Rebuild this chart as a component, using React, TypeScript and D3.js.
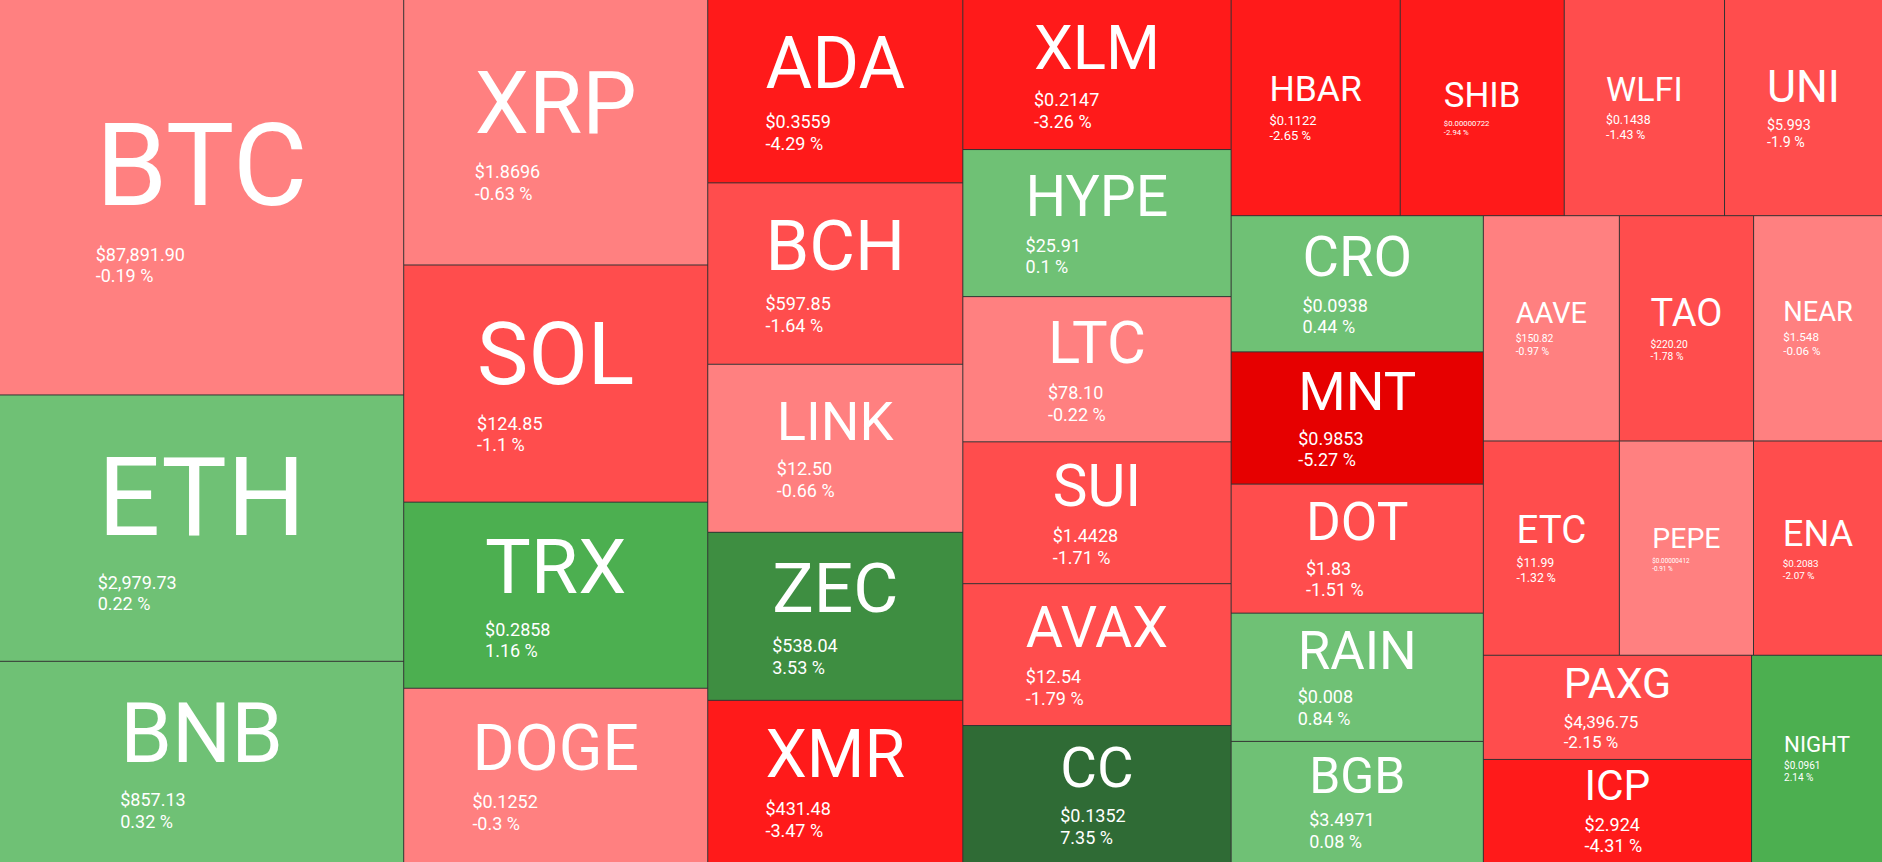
import * as d3 from "d3";
import { useEffect, useRef } from "react";

const WIDTH = 1882;
const HEIGHT = 862;

// coins in display order (largest tile first)
const symbols = [
  "BTC", "ETH", "BNB", "XRP", "SOL", "TRX", "DOGE", "ADA", "BCH", "LINK", "ZEC", "XMR",
  "XLM", "HYPE", "LTC", "SUI", "AVAX", "CC", "HBAR", "SHIB", "WLFI", "UNI", "CRO", "MNT",
  "DOT", "RAIN", "BGB", "AAVE", "TAO", "NEAR", "ETC", "PEPE", "ENA", "PAXG", "ICP", "NIGHT",
];

const prices = [
  "$87,891.90", "$2,979.73", "$857.13", "$1.8696", "$124.85", "$0.2858", "$0.1252", "$0.3559",
  "$597.85", "$12.50", "$538.04", "$431.48", "$0.2147", "$25.91", "$78.10", "$1.4428",
  "$12.54", "$0.1352", "$0.1122", "$0.00000722", "$0.1438", "$5.993", "$0.0938", "$0.9853",
  "$1.83", "$0.008", "$3.4971", "$150.82", "$220.20", "$1.548", "$11.99", "$0.00000412",
  "$0.2083", "$4,396.75", "$2.924", "$0.0961",
];

// 24h change in %
const changes = [
  -0.19, 0.22, 0.32, -0.63, -1.1, 1.16, -0.3, -4.29, -1.64, -0.66, 3.53, -3.47,
  -3.26, 0.1, -0.22, -1.71, -1.79, 7.35, -2.65, -2.94, -1.43, -1.9, 0.44, -5.27,
  -1.51, 0.84, 0.08, -0.97, -1.78, -0.06, -1.32, -0.91, -2.07, -2.15, -4.31, 2.14,
];

// relative tile weight
const weights = [
  1596, 1075, 812, 806, 720, 565, 529, 467, 462, 428, 428, 413,
  402, 394, 389, 380, 380, 367, 365, 354, 346, 341, 343, 333,
  325, 323, 305, 306, 302, 290, 291, 287, 276, 279, 276, 271,
];

const colorSteps = [-5, -2.5, -1, 0, 1, 2.5, 5];
const colorRange = [
  "#e60000", "#ff1a1a", "#ff4d4d", "#ff8080",
  "#6fc175", "#4caf50", "#3e8e41", "#2f6b35",
];

export default function App() {
  const ref = useRef<SVGSVGElement>(null);

  useEffect(() => {
    const svg = d3.select(ref.current);
    svg.selectAll("*").remove();

    const data = symbols.map((s, i) => ({
      symbol: s,
      price: prices[i],
      change: changes[i],
      weight: weights[i],
    }));

    const root = d3
      .hierarchy({ children: data } as any)
      .sum((d: any) => d.weight || 0);

    d3.treemap()
      .size([WIDTH, HEIGHT])
      .paddingInner(1)
      .tile(d3.treemapSquarify)(root);

    const color = d3
      .scaleThreshold<number, string>()
      .domain(colorSteps)
      .range(colorRange);

    svg
      .append("rect")
      .attr("width", WIDTH)
      .attr("height", HEIGHT)
      .attr("fill", "#333");

    const cell = svg
      .selectAll("g.cell")
      .data(root.leaves() as any[])
      .join("g")
      .attr("class", "cell");

    cell
      .append("rect")
      .attr("x", (d) => d.x0)
      .attr("y", (d) => d.y0)
      .attr("width", (d) => d.x1 - d.x0)
      .attr("height", (d) => d.y1 - d.y0)
      .attr("fill", (d) => color(d.data.change));

    const maxPrice = 18;

    cell.each(function (d: any) {
      const g = d3.select(this);
      const w = d.x1 - d.x0;
      const h = d.y1 - d.y0;
      const cx = (d.x0 + d.x1) / 2;
      const cy = (d.y0 + d.y1) / 2;

      const sym = g
        .append("text")
        .attr("font-size", 100)
        .attr("fill", "#fff")
        .text(d.data.symbol);
      const em = (sym.node() as SVGTextElement).getComputedTextLength() / 100;

      // symbol size: fit the width (by letters and by measured length), capped by tile height
      const fs = Math.min(
        (0.855 * w) / d.data.symbol.length,
        (0.55 * w) / em,
        0.415 * h
      );
      sym.attr("font-size", fs);
      const symLen = em * fs;

      const price = g
        .append("text")
        .attr("font-size", maxPrice)
        .attr("fill", "#fff")
        .text(d.data.price);
      const change = g
        .append("text")
        .attr("font-size", maxPrice)
        .attr("fill", "#fff")
        .text(`${d.data.change} %`);

      const pLen = (price.node() as SVGTextElement).getComputedTextLength();
      const cLen = (change.node() as SVGTextElement).getComputedTextLength();

      // price line takes at most ~28% of the tile width
      const fp = Math.min(maxPrice, (maxPrice * 0.28 * w) / pLen);
      price.attr("font-size", fp);
      change.attr("font-size", fp);

      const k = fp / maxPrice;
      const blockW = Math.max(symLen, pLen * k, cLen * k);
      const left = cx - blockW / 2;
      const blockH = 1.27 * fs + 2.47 * fp;
      const base = cy - blockH / 2 + 0.9 * fs;

      sym.attr("x", left).attr("y", base);
      price.attr("x", left).attr("y", base + 0.34 * fs + 0.9 * fp);
      change.attr("x", left).attr("y", base + 0.34 * fs + 2.1 * fp);
    });
  }, []);

  return (
    <div style={{ position: "absolute", left: 0, top: 0 }}>
      <svg
        ref={ref}
        width={WIDTH}
        height={HEIGHT}
        style={{ display: "block", fontFamily: "Roboto, sans-serif" }}
      />
    </div>
  );
}
